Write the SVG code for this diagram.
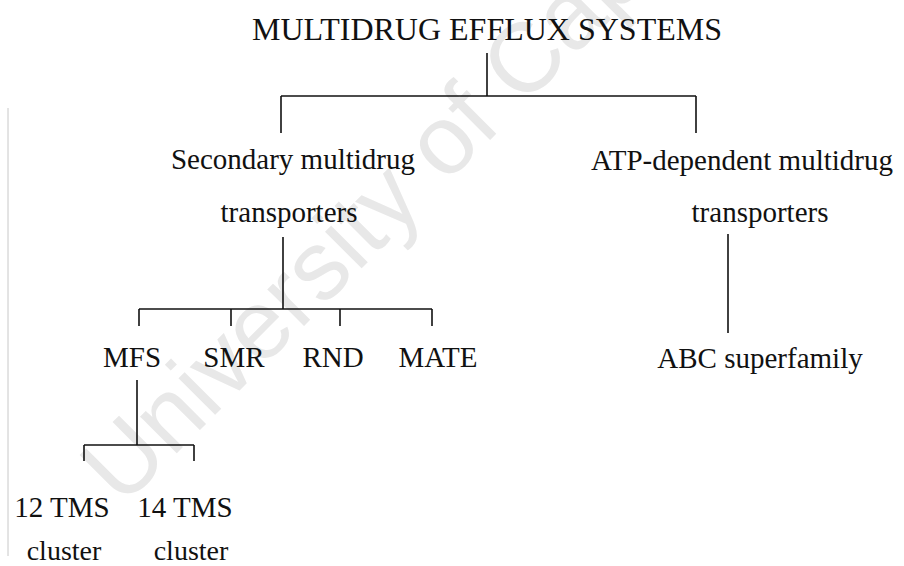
<svg xmlns="http://www.w3.org/2000/svg" width="904" height="566" viewBox="0 0 904 566">
  <style>
    .lbl { font-family: "Liberation Serif", "Times New Roman", serif; fill: #111; text-anchor: middle; }
    .t { font-size: 32px; }
    .m { font-size: 29px; }
    .s { font-size: 28px; }
    .wm { font-family: "Liberation Sans", Arial, sans-serif; font-size: 98px; fill: #e8e8e8; }
    .con line { stroke: #111; stroke-width: 1.6; fill: none; }
  </style>
  <rect width="904" height="566" fill="#ffffff"/>
  <g id="watermark">
    <text class="wm" transform="translate(122,508) rotate(-45)">University of Cape Town</text>
  </g>
  <line x1="8" y1="108" x2="8" y2="556" stroke="#c8c8c8" stroke-width="1"/>
  <g id="connectors" class="con">
    <line x1="487" y1="53" x2="487" y2="96"/>
    <line x1="281" y1="96" x2="696" y2="96"/>
    <line x1="281" y1="96" x2="281" y2="133"/>
    <line x1="696" y1="96" x2="696" y2="133"/>
    <line x1="283" y1="237" x2="283" y2="309"/>
    <line x1="139" y1="309" x2="432" y2="309"/>
    <line x1="139" y1="309" x2="139" y2="326"/>
    <line x1="231" y1="309" x2="231" y2="326"/>
    <line x1="340" y1="309" x2="340" y2="326"/>
    <line x1="432" y1="309" x2="432" y2="326"/>
    <line x1="728" y1="234" x2="728" y2="333"/>
    <line x1="137" y1="380" x2="137" y2="445"/>
    <line x1="84" y1="445" x2="194" y2="445"/>
    <line x1="84" y1="445" x2="84" y2="461"/>
    <line x1="194" y1="445" x2="194" y2="461"/>
  </g>
  <g id="root"><text class="lbl t" x="487" y="40">MULTIDRUG EFFLUX SYSTEMS</text></g>
  <g id="secondary">
    <text class="lbl m" x="293" y="169">Secondary multidrug</text>
    <text class="lbl m" x="289" y="222">transporters</text>
  </g>
  <g id="atp">
    <text class="lbl m" x="742" y="170">ATP-dependent multidrug</text>
    <text class="lbl m" x="760" y="222">transporters</text>
  </g>
  <g id="mfs"><text class="lbl m" x="132" y="367">MFS</text></g>
  <g id="smr"><text class="lbl m" x="234" y="367">SMR</text></g>
  <g id="rnd"><text class="lbl m" x="333" y="367">RND</text></g>
  <g id="mate"><text class="lbl m" x="438" y="367">MATE</text></g>
  <g id="abc"><text class="lbl m" x="760" y="368">ABC superfamily</text></g>
  <g id="tms12">
    <text class="lbl m" x="62" y="517">12 TMS</text>
    <text class="lbl s" x="64" y="560">cluster</text>
  </g>
  <g id="tms14">
    <text class="lbl m" x="185" y="517">14 TMS</text>
    <text class="lbl s" x="191" y="560">cluster</text>
  </g>
</svg>
